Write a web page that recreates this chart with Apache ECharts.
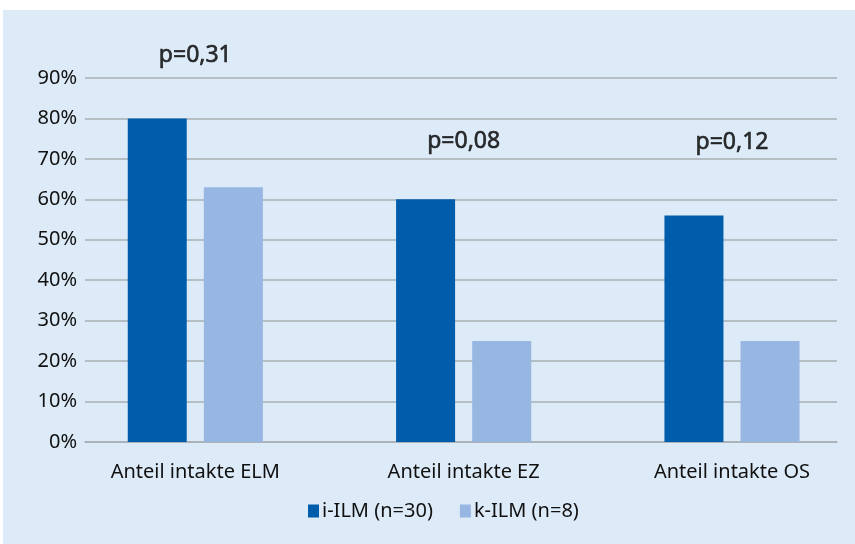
<!DOCTYPE html>
<html><head><meta charset="utf-8">
<script src="https://cdn.jsdelivr.net/npm/echarts@6/dist/echarts.min.js"></script>
<style>html,body{margin:0;padding:0;background:#fff}#c{width:855px;height:544px}</style>
</head><body><div id="c"></div>
<script>
const categories = ['Anteil intakte ELM', 'Anteil intakte EZ', 'Anteil intakte OS'];
const iILM = [80, 60, 56];
const kILM = [63, 25, 25];
const pValues = ['p=0,31', 'p=0,08', 'p=0,12'];
const pLevels = [95.5, 74.2, 74];
const yTicks = [0, 10, 20, 30, 40, 50, 60, 70, 80, 90];
const seriesNames = ['i-ILM (n=30)', 'k-ILM (n=8)'];

const FONT = 'Noto Sans';
const chart = echarts.init(document.getElementById('c'));
const gTop = 78, gBottom = 544 - 442;
chart.setOption({
  backgroundColor: '#ffffff',
  animation: false,
  graphic: [{type: 'rect', shape: {x: 3, y: 10, width: 852, height: 534}, style: {fill: '#ddeaf7'}, z: -10, silent: true}],
  grid: [
    {left: 85, right: 18, top: gTop, bottom: gBottom},
    {left: 195.3, right: 123, top: gTop, bottom: gBottom}
  ],
  xAxis: [
    {gridIndex: 0, type: 'category', data: categories, axisLabel: {show: false}, axisTick: {show: false},
     axisLine: {lineStyle: {color: '#a9afb5', width: 1.5}}},
    {gridIndex: 1, type: 'category', data: categories, boundaryGap: false, axisTick: {show: false}, axisLine: {show: false},
     splitLine: {show: false},
     axisLabel: {color: '#111', fontFamily: FONT, fontSize: 20, margin: 20}}
  ],
  yAxis: [
    {gridIndex: 0, type: 'value', min: 0, max: 90, interval: 10,
     axisLabel: {formatter: v => yTicks.includes(v) ? v + '%' : '', color: '#111', fontFamily: FONT, fontSize: 20, margin: 8},
     axisLine: {show: false}, axisTick: {show: false},
     splitLine: {lineStyle: {color: '#a9afb5', width: 1.5}}},
    {gridIndex: 1, type: 'value', min: 0, max: 90, show: false}
  ],
  legend: {
    data: seriesNames, top: 496, left: 303, itemWidth: 11, itemHeight: 13, itemGap: 27,
    icon: 'rect', textStyle: {color: '#111', fontFamily: FONT, fontSize: 20, padding: [0, 0, 0, -2]}
  },
  series: [
    {name: seriesNames[0], type: 'bar', xAxisIndex: 1, yAxisIndex: 1, data: iILM, barWidth: 59, barGap: '29%',
     clip: false, itemStyle: {color: '#005dab'}},
    {name: seriesNames[1], type: 'bar', xAxisIndex: 1, yAxisIndex: 1, data: kILM, barWidth: 59,
     clip: false, itemStyle: {color: '#98b6e2'}},
    {name: 'p', type: 'scatter', xAxisIndex: 1, yAxisIndex: 1, symbolSize: 0, clip: false, silent: true,
     data: pLevels.map((v, i) => [i, v]),
     label: {show: true, position: 'inside', formatter: p => pValues[p.dataIndex], color: '#000', fontFamily: FONT, fontSize: 23,
             textBorderColor: '#000', textBorderWidth: 0.6}}
  ]
});
</script></body></html>
